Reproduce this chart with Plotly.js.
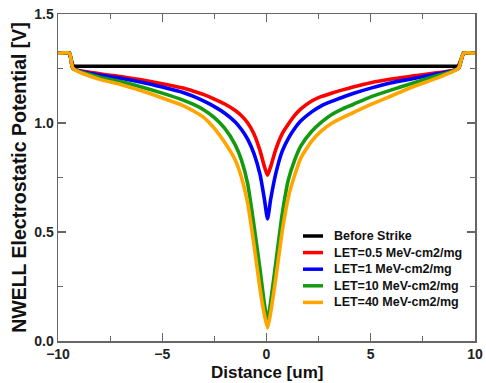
<!DOCTYPE html>
<html>
<head>
<meta charset="utf-8">
<script src="https://cdn.plot.ly/plotly-3.0.1.min.js"></script>
<style>html,body{margin:0;padding:0;background:#fff;}#chart{width:486px;height:383px;}</style>
</head>
<body>
<div id="chart"></div>
<script>
// Shared distance grid [um]
const distance = [-10, -9.45, -9.28, -8, -7, -6, -5, -4, -3.5, -3, -2.5, -2, -1.5, -1.2, -0.9, -0.6, -0.3, -0.1, 0.05,
  0.2, 0.45, 0.75, 1.05, 1.35, 1.65, 2.15, 2.65, 3.15, 3.65, 4.15, 5, 6, 7, 8, 9.2, 9.45, 10];
const seriesNames = ["Before Strike", "LET=0.5 MeV-cm2/mg", "LET=1 MeV-cm2/mg", "LET=10 MeV-cm2/mg", "LET=40 MeV-cm2/mg"];
const seriesColors = ["#000000", "#ff0000", "#0000ff", "#139a13", "#ffa500"];
const xTitle = "Distance [um]";
const yTitle = "NWELL Electrostatic Potential [V]";

const beforeStrike = [1.32, 1.32, 1.26, 1.26, 1.26, 1.26, 1.26, 1.26, 1.26, 1.26, 1.26, 1.26, 1.26, 1.26, 1.26, 1.26, 1.26, 1.26, 1.26,
  1.26, 1.26, 1.26, 1.26, 1.26, 1.26, 1.26, 1.26, 1.26, 1.26, 1.26, 1.26, 1.26, 1.26, 1.26, 1.26, 1.32, 1.32];
const let05 = [1.32, 1.32, 1.25, 1.226, 1.213, 1.198, 1.18, 1.16, 1.146, 1.13, 1.11, 1.087, 1.057, 1.033, 1.0, 0.95, 0.87, 0.80, 0.76,
  0.80, 0.88, 0.95, 0.995, 1.035, 1.065, 1.10, 1.122, 1.138, 1.152, 1.165, 1.185, 1.202, 1.215, 1.228, 1.25, 1.32, 1.32];
const let1 = [1.32, 1.32, 1.25, 1.22, 1.205, 1.187, 1.165, 1.14, 1.122, 1.10, 1.075, 1.045, 1.005, 0.97, 0.925, 0.86, 0.76, 0.65, 0.56,
  0.65, 0.77, 0.87, 0.93, 0.975, 1.01, 1.05, 1.08, 1.10, 1.118, 1.135, 1.16, 1.185, 1.203, 1.222, 1.25, 1.32, 1.32];
const let10 = [1.32, 1.32, 1.25, 1.21, 1.19, 1.165, 1.137, 1.105, 1.085, 1.06, 1.025, 0.975, 0.90, 0.83, 0.72, 0.53, 0.32, 0.17, 0.09,
  0.18, 0.36, 0.58, 0.74, 0.83, 0.895, 0.96, 1.005, 1.04, 1.065, 1.085, 1.12, 1.152, 1.182, 1.212, 1.25, 1.32, 1.32];
const let40 = [1.32, 1.32, 1.25, 1.20, 1.177, 1.148, 1.115, 1.08, 1.055, 1.025, 0.975, 0.91, 0.83, 0.75, 0.63, 0.44, 0.23, 0.12, 0.06,
  0.13, 0.29, 0.50, 0.66, 0.76, 0.84, 0.915, 0.965, 1.0, 1.025, 1.047, 1.085, 1.125, 1.165, 1.20, 1.25, 1.32, 1.32];

const allSeries = [beforeStrike, let05, let1, let10, let40];
const traces = allSeries.map((ys, i) => ({
  x: distance, y: ys, type: "scatter", mode: "lines",
  name: seriesNames[i],
  line: {color: seriesColors[i], width: 3.6, shape: i === 0 ? "linear" : "spline", smoothing: 0.5},
  hoverinfo: "skip", showlegend: false
}));

const font = "Liberation Sans, Arial, Helvetica, sans-serif";
const W = 486, H = 383, M = {l: 58, r: 11, t: 14, b: 42};
const pw = W - M.l - M.r, ph = H - M.t - M.b;
const px2x = px => (px - M.l) / pw;
const py2y = py => (H - M.b - py) / ph;

// Custom legend (compact spacing like the reference)
const legTop = 236, legStep = 16.6, legLineX0 = 303, legLineX1 = 323, legTextX = 332;
const shapes = [], annotations = [];
seriesNames.forEach((name, i) => {
  const yy = py2y(legTop + i * legStep);
  shapes.push({type: "line", xref: "paper", yref: "paper", x0: px2x(legLineX0), x1: px2x(legLineX1), y0: yy, y1: yy,
    line: {color: seriesColors[i], width: 3.5}});
  annotations.push({xref: "paper", yref: "paper", x: px2x(legTextX), y: yy, xanchor: "left", yanchor: "middle",
    text: name, showarrow: false, font: {family: font, size: 12.5, color: "#111", weight: "bold"}});
});
// x-axis title placed just below the tick labels, fully inside the page
annotations.push({xref: "paper", yref: "paper", x: 0.5, y: py2y(382.5), xanchor: "center", yanchor: "bottom",
  text: xTitle, showarrow: false, borderpad: 0, font: {family: font, size: 17, color: "#111", weight: "bold"}});

const axisCommon = {
  showline: true, linecolor: "#666", linewidth: 1.5, mirror: "ticks",
  ticks: "inside", ticklen: 8, tickwidth: 1.2, tickcolor: "#666",
  showgrid: false, zeroline: false,
  tickfont: {family: font, size: 14, color: "#222", weight: "bold"}
};

const layout = {
  width: W, height: H, margin: M,
  paper_bgcolor: "#fff", plot_bgcolor: "#fff",
  showlegend: false, shapes: shapes, annotations: annotations,
  xaxis: Object.assign({}, axisCommon, {
    range: [-10, 10], tickmode: "linear", tick0: -10, dtick: 5,
    minor: {dtick: 2.5, ticks: "inside", ticklen: 5, tickcolor: "#666", showgrid: false}
  }),
  yaxis: Object.assign({}, axisCommon, {
    range: [0, 1.5], tickmode: "linear", tick0: 0, dtick: 0.5, tickformat: ".1f",
    minor: {dtick: 0.25, ticks: "inside", ticklen: 5, tickcolor: "#666", showgrid: false},
    title: {text: yTitle, font: {family: font, size: 19.5, color: "#111", weight: "bold"}, standoff: 2}
  })
};

Plotly.newPlot("chart", traces, layout, {staticPlot: true, displayModeBar: false});
</script>
</body>
</html>
